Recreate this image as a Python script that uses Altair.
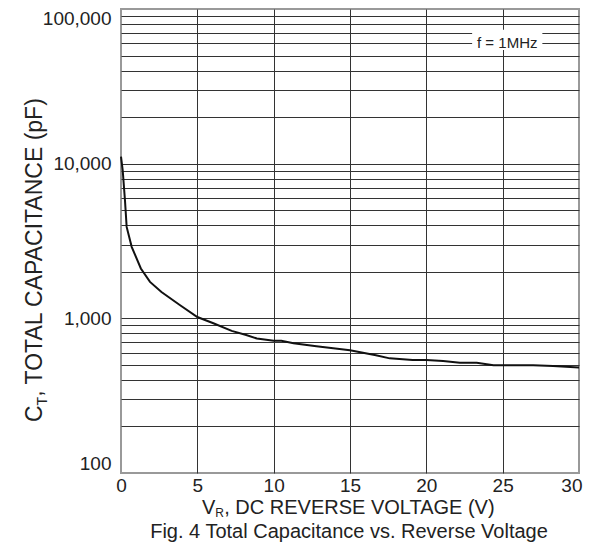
import altair as alt
import pandas as pd

# Curve
voltage = [0, 0.11, 0.26, 0.37, 0.7, 1.3, 1.9, 2.65, 3.85, 5.0, 6.05, 7.25, 8.2, 8.9,
           10.0, 10.5, 11.3, 12.8, 15.0, 16.7, 17.6, 19.1, 20.0, 21.1, 22.2, 23.3,
           24.4, 25.0, 27.0, 28.3, 30.0]
capacitance = [11100, 9100, 5800, 3900, 2900, 2100, 1720, 1480, 1220, 1020, 930, 830,
               780, 740, 716, 716, 690, 660, 622, 578, 551, 537, 537, 529, 516, 516,
               498, 498, 498, 491, 481]

x_ticks = [0, 5, 10, 15, 20, 25, 30]
y_ticks = [100, 200, 300, 400, 500, 600, 700, 800, 900,
           1000, 2000, 3000, 4000, 5000, 6000, 7000, 8000, 9000,
           10000, 20000, 30000, 40000, 50000, 60000, 70000, 80000, 90000, 100000]
y_labels = [100, 1000, 10000, 100000]

note_text = ["f = 1MHz"]
note_x = [25.3]
note_y = [60000]
note_box = {"x1": [23.0], "x2": [27.6], "y1": [54300], "y2": [73500]}

FONT = "Liberation Sans"
INK = "#222222"
GRID = "#333333"

df = pd.DataFrame({"V": voltage, "C": capacitance})

xs = alt.X("V:Q", scale=alt.Scale(domain=[0, 30], nice=False, zero=False),
           axis=alt.Axis(values=x_ticks, grid=True, ticks=False, domain=False,
                         gridColor={"condition": {"test": "datum.value == 0 || datum.value == 30",
                                                  "value": "transparent"}, "value": GRID},
                         gridWidth=1,
                         labelFontSize=19, labelFont=FONT, labelColor=INK, labelPadding=3,
                         labelAlign={"condition": {"test": "datum.value == 30", "value": "right"},
                                     "value": "center"},
                         labelOffset={"condition": {"test": "datum.value == 30", "value": 3},
                                      "value": 0},
                         title=None))

label_test = "indexof([" + ",".join(str(v) for v in y_labels) + "], datum.value) >= 0"
ys = alt.Y("C:Q", scale=alt.Scale(type="log", domain=[100, 100000], nice=False),
           axis=alt.Axis(values=y_ticks, grid=True, ticks=False, domain=False,
                         gridColor={"condition": {"test": "datum.value == 100 || datum.value == 100000",
                                                  "value": "transparent"}, "value": GRID},
                         gridWidth=1,
                         labelExpr=label_test + " ? format(datum.value, ',') : ''",
                         labelFlush=True, labelOverlap=False,
                         labelFontSize=19, labelFont=FONT, labelColor=INK, labelPadding=10,
                         title=None))

line = alt.Chart(df).mark_line(color="#111111", strokeWidth=2).encode(x=xs, y=ys)

box = alt.Chart(pd.DataFrame(note_box)).mark_rect(color="white").encode(
    x="x1:Q", x2="x2:Q", y="y1:Q", y2="y2:Q")
note = alt.Chart(pd.DataFrame({"x": note_x, "y": note_y, "t": note_text})).mark_text(
    font=FONT, fontSize=15, color=INK, baseline="middle", align="center").encode(
    x="x:Q", y="y:Q", text="t:N")


def txt(s, x, y, size, align="left", angle=0):
    return alt.Chart(pd.DataFrame({"t": [s]})).mark_text(
        font=FONT, fontSize=size, color=INK, align=align, baseline="alphabetic",
        angle=angle).encode(text="t:N", x=alt.value(x), y=alt.value(y))


# x-axis title with subscript
xt1 = txt("V", 81, 505, 20)
xt2 = txt("R", 94.3, 507.5, 12)
xt3 = txt(", DC REVERSE VOLTAGE (V)", 103.2, 505, 20)
# y-axis title with subscript (rotated)
yt1 = txt("C", -79, 413, 23, angle=270)
yt2 = txt("T", -74, 396.4, 14, angle=270)
yt3 = txt(", TOTAL CAPACITANCE (pF)", -79, 387.8, 23, angle=270)
# caption
cap = txt("Fig. 4 Total Capacitance vs. Reverse Voltage", 228, 528.5, 20, align="center")

chart = alt.layer(line, box, note, xt1, xt2, xt3, yt1, yt2, yt3, cap).properties(
    width=458, height=464,
    autosize=alt.AutoSizeParams(type="none"),
    padding={"left": 113, "top": 1, "right": 4, "bottom": 69},
    background="white",
).configure_view(stroke="#999999", strokeWidth=2)

chart.save("out.html", embed_options={"renderer": "svg", "actions": False})
